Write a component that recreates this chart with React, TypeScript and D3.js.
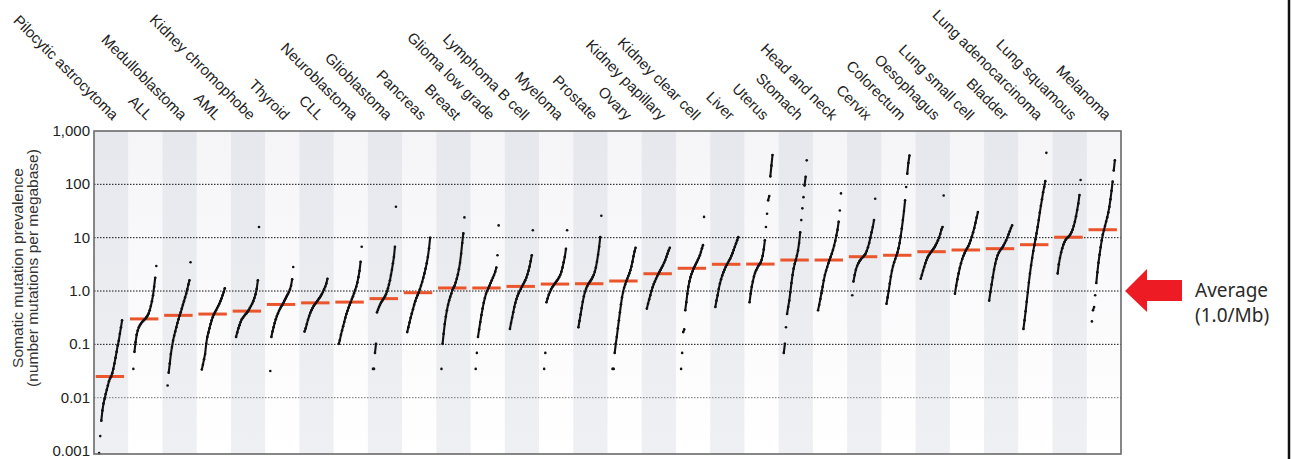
import React, { useEffect, useRef } from "react";
import * as d3 from "d3";

// cancer types, left to right
const cancerTypes = [
  "Pilocytic astrocytoma", "ALL", "Medulloblastoma", "AML", "Kidney chromophobe",
  "Thyroid", "CLL", "Neuroblastoma", "Glioblastoma", "Pancreas",
  "Breast", "Glioma low grade", "Lymphoma B cell", "Myeloma", "Prostate",
  "Ovary", "Kidney papillary", "Kidney clear cell", "Liver", "Uterus",
  "Stomach", "Head and neck", "Cervix", "Colorectum", "Oesophagus",
  "Lung small cell", "Bladder", "Lung adenocarcinoma", "Lung squamous", "Melanoma",
];

// median mutations per megabase (red bars)
const medianRates = [
  0.025, 0.3, 0.35, 0.37, 0.42, 0.56, 0.6, 0.62, 0.72, 0.93,
  1.14, 1.14, 1.22, 1.35, 1.37, 1.54, 2.11, 2.67, 3.17, 3.2,
  3.81, 3.81, 4.4, 4.68, 5.46, 5.88, 6.22, 7.39, 10.2, 14.1,
];

const tickValues = [0.001, 0.01, 0.1, 1, 10, 100, 1000];
const tickLabels = ["0.001", "0.01", "0.1", "1.0", "10", "100", "1,000"];
const gridValues = [0.01, 0.1, 1, 10, 100];

// samples of each type, sorted low to high, as log10(mutations per Mb)
const pilocyticAstrocytoma = [-3.04, -2.72, -2.43, -2.24, -2.11, -2.02, -1.93, -1.85, -1.77, -1.69, -1.64, -1.6, -1.54, -1.46, -1.36, -1.25, -1.14, -1.02, -0.93, -0.8, -0.68, -0.55];
const all = [-1.46, -1.14, -0.96, -0.82, -0.74, -0.68, -0.64, -0.61, -0.58, -0.56, -0.54, -0.52, -0.49, -0.46, -0.42, -0.36, -0.28, -0.19, -0.08, 0.08, 0.25, 0.47];
const medulloblastoma = [-1.77, -1.53, -1.36, -1.18, -1.05, -0.93, -0.84, -0.76, -0.68, -0.6, -0.53, -0.46, -0.4, -0.33, -0.26, -0.19, -0.12, -0.05, 0.03, 0.12, 0.2, 0.54];
const aml = [-1.47, -1.38, -1.28, -1.18, -0.99, -0.86, -0.78, -0.7, -0.62, -0.55, -0.49, -0.44, -0.4, -0.36, -0.32, -0.28, -0.24, -0.19, -0.14, -0.08, -0.02, 0.05];
const kidneyChromophobe = [-0.86, -0.78, -0.7, -0.64, -0.58, -0.53, -0.5, -0.47, -0.44, -0.42, -0.39, -0.36, -0.32, -0.28, -0.24, -0.19, -0.13, -0.06, 0.04, 0.2, 1.2];
const thyroid = [-1.5, -0.86, -0.76, -0.68, -0.6, -0.53, -0.47, -0.42, -0.37, -0.33, -0.29, -0.26, -0.22, -0.18, -0.14, -0.1, -0.06, -0.02, 0.03, 0.1, 0.22, 0.45];
const cll = [-0.76, -0.7, -0.62, -0.54, -0.47, -0.41, -0.36, -0.32, -0.28, -0.25, -0.22, -0.19, -0.16, -0.13, -0.1, -0.06, -0.02, 0.03, 0.08, 0.14, 0.23];
const neuroblastoma = [-0.99, -0.92, -0.82, -0.74, -0.66, -0.58, -0.5, -0.43, -0.37, -0.31, -0.26, -0.21, -0.15, -0.1, -0.04, 0.02, 0.08, 0.16, 0.26, 0.38, 0.55, 0.83];
const glioblastoma = [-1.46, -1.46, -1.16, -0.99, -0.4, -0.35, -0.3, -0.26, -0.22, -0.19, -0.16, -0.13, -0.1, -0.06, -0.01, 0.05, 0.12, 0.2, 0.3, 0.4, 0.52, 0.64, 0.83, 1.58];
const pancreas = [-0.77, -0.68, -0.59, -0.5, -0.42, -0.34, -0.26, -0.19, -0.13, -0.08, -0.03, 0.03, 0.1, 0.17, 0.25, 0.33, 0.42, 0.52, 0.64, 0.8, 1.0];
const breast = [-1.46, -0.99, -0.8, -0.62, -0.48, -0.36, -0.26, -0.18, -0.11, -0.05, 0.02, 0.06, 0.1, 0.16, 0.23, 0.31, 0.41, 0.53, 0.7, 0.9, 1.08, 1.38];
const gliomaLowGrade = [-1.46, -1.16, -0.86, -0.72, -0.58, -0.45, -0.33, -0.22, -0.13, -0.05, 0.0, 0.05, 0.1, 0.15, 0.2, 0.25, 0.3, 0.36, 0.44, 0.67, 1.23];
const lymphomaBCell = [-0.71, -0.6, -0.5, -0.4, -0.3, -0.22, -0.15, -0.09, -0.04, 0.0, 0.04, 0.08, 0.12, 0.16, 0.2, 0.25, 0.31, 0.38, 0.46, 0.56, 0.67, 1.14];
const myeloma = [-1.46, -1.16, -0.21, -0.14, -0.07, -0.02, 0.03, 0.07, 0.1, 0.13, 0.16, 0.19, 0.22, 0.26, 0.3, 0.36, 0.44, 0.54, 0.64, 0.79, 1.14];
const prostate = [-0.68, -0.56, -0.44, -0.32, -0.2, -0.1, -0.02, 0.04, 0.09, 0.13, 0.16, 0.19, 0.22, 0.26, 0.3, 0.36, 0.44, 0.55, 0.68, 0.83, 1.01, 1.41];
const ovary = [-1.46, -1.46, -1.16, -0.99, -0.86, -0.7, -0.55, -0.4, -0.25, -0.12, -0.02, 0.06, 0.12, 0.18, 0.23, 0.28, 0.33, 0.39, 0.46, 0.55, 0.65, 0.74, 0.81];
const kidneyPapillary = [-0.33, -0.24, -0.16, -0.08, 0.0, 0.07, 0.13, 0.18, 0.23, 0.28, 0.32, 0.36, 0.4, 0.44, 0.48, 0.53, 0.58, 0.64, 0.7, 0.76, 0.81];
const kidneyClearCell = [-1.46, -1.16, -0.77, -0.72, -0.36, -0.21, -0.05, 0.08, 0.18, 0.26, 0.32, 0.37, 0.42, 0.46, 0.5, 0.54, 0.58, 0.62, 0.67, 0.73, 0.8, 0.86, 1.39];
const liver = [-0.3, -0.18, -0.08, 0.04, 0.14, 0.22, 0.29, 0.35, 0.4, 0.45, 0.49, 0.53, 0.57, 0.61, 0.66, 0.71, 0.77, 0.83, 0.89, 0.95, 1.01];
const uterus = [-0.21, -0.05, 0.08, 0.18, 0.27, 0.34, 0.39, 0.43, 0.47, 0.5, 0.53, 0.58, 0.66, 0.78, 0.95, 1.2, 1.45, 1.7, 1.78, 2.15, 2.35, 2.55];
const stomach = [-1.16, -0.99, -0.68, -0.43, -0.3, -0.18, -0.02, 0.15, 0.3, 0.42, 0.51, 0.58, 0.66, 0.76, 0.9, 1.1, 1.33, 1.55, 1.76, 1.98, 2.14, 2.45];
const headAndNeck = [-0.36, -0.26, -0.15, -0.04, 0.08, 0.2, 0.3, 0.38, 0.45, 0.52, 0.58, 0.64, 0.7, 0.77, 0.85, 0.94, 1.04, 1.15, 1.3, 1.51, 1.83];
const cervix = [-0.08, 0.18, 0.3, 0.4, 0.47, 0.52, 0.56, 0.59, 0.62, 0.64, 0.67, 0.7, 0.75, 0.82, 0.9, 1.0, 1.1, 1.2, 1.33, 1.73];
const colorectum = [-0.24, -0.12, 0.0, 0.14, 0.27, 0.38, 0.47, 0.54, 0.6, 0.66, 0.72, 0.8, 0.9, 1.03, 1.17, 1.33, 1.5, 1.7, 1.95, 2.2, 2.4, 2.54];
const oesophagus = [0.23, 0.3, 0.38, 0.45, 0.52, 0.58, 0.63, 0.67, 0.7, 0.73, 0.76, 0.79, 0.82, 0.86, 0.9, 0.95, 1.0, 1.07, 1.15, 1.2, 1.79];
const lungSmallCell = [-0.05, 0.1, 0.22, 0.33, 0.43, 0.52, 0.6, 0.66, 0.71, 0.76, 0.8, 0.84, 0.89, 0.95, 1.02, 1.1, 1.18, 1.28, 1.38, 1.48];
const bladder = [-0.18, -0.02, 0.12, 0.26, 0.4, 0.51, 0.6, 0.67, 0.72, 0.76, 0.79, 0.82, 0.86, 0.9, 0.95, 1.0, 1.06, 1.12, 1.18, 1.23];
const lungAdenocarcinoma = [-0.71, -0.55, -0.38, -0.2, -0.02, 0.16, 0.33, 0.48, 0.62, 0.75, 0.86, 0.97, 1.08, 1.2, 1.33, 1.47, 1.6, 1.72, 1.85, 1.95, 2.06, 2.59];
const lungSquamous = [0.33, 0.5, 0.62, 0.72, 0.8, 0.87, 0.92, 0.96, 0.99, 1.01, 1.03, 1.06, 1.1, 1.15, 1.22, 1.3, 1.4, 1.52, 1.64, 1.8, 2.08];
const melanoma = [-0.57, -0.36, -0.3, -0.08, 0.15, 0.35, 0.53, 0.68, 0.82, 0.95, 1.06, 1.14, 1.22, 1.3, 1.38, 1.47, 1.58, 1.72, 1.88, 2.05, 2.26, 2.45];

const samplesByType = [
  pilocyticAstrocytoma, all, medulloblastoma, aml, kidneyChromophobe,
  thyroid, cll, neuroblastoma, glioblastoma, pancreas,
  breast, gliomaLowGrade, lymphomaBCell, myeloma, prostate,
  ovary, kidneyPapillary, kidneyClearCell, liver, uterus,
  stomach, headAndNeck, cervix, colorectum, oesophagus,
  lungSmallCell, bladder, lungAdenocarcinoma, lungSquamous, melanoma,
];

const W = 1293, H = 459;
const plot = { left: 94, right: 1121, top: 131, bottom: 454 };
const sans = "'Liberation Sans', Arial, Helvetica, sans-serif";

function App() {
  const ref = useRef<SVGSVGElement>(null);

  useEffect(() => {
    const svg = d3.select(ref.current);
    svg.selectAll("*").remove();

    const x = d3.scaleBand<string>().domain(cancerTypes).range([plot.left, plot.right]).padding(0);
    const y = d3.scaleLog().domain([0.00088, 1000]).range([plot.bottom, plot.top]);
    const bw = x.bandwidth();

    svg.append("rect").attr("width", W).attr("height", H).attr("fill", "#fff");

    const defs = svg.append("defs");
    const g1 = defs.append("linearGradient").attr("id", "bandDark").attr("x1", 0).attr("x2", 0).attr("y1", 0).attr("y2", 1);
    g1.append("stop").attr("offset", "0%").attr("stop-color", "#e7e8ed");
    g1.append("stop").attr("offset", "100%").attr("stop-color", "#eff0f3");
    const g2 = defs.append("linearGradient").attr("id", "bandLight").attr("x1", 0).attr("x2", 0).attr("y1", 0).attr("y2", 1);
    g2.append("stop").attr("offset", "0%").attr("stop-color", "#f5f5f8");
    g2.append("stop").attr("offset", "100%").attr("stop-color", "#ffffff");

    // column bands
    svg.append("g").selectAll("rect")
      .data(cancerTypes)
      .enter().append("rect")
      .attr("x", d => x(d)!)
      .attr("y", plot.top)
      .attr("width", bw + 0.5)
      .attr("height", plot.bottom - plot.top)
      .attr("fill", (d, i) => i % 2 === 0 ? "url(#bandDark)" : "url(#bandLight)");

    // dotted gridlines
    svg.append("g").selectAll("line")
      .data(gridValues)
      .enter().append("line")
      .attr("x1", plot.left).attr("x2", plot.right)
      .attr("y1", d => y(d)).attr("y2", d => y(d))
      .attr("stroke", d => d === 0.01 ? "#777" : "#111")
      .attr("stroke-width", 1)
      .attr("stroke-dasharray", "1.5,1.5");

    // medians
    svg.append("g").selectAll("line")
      .data(cancerTypes)
      .enter().append("line")
      .attr("x1", d => x(d)! + bw * 0.05)
      .attr("x2", d => x(d)! + bw * 0.88)
      .attr("y1", (d, i) => y(medianRates[i]))
      .attr("y2", (d, i) => y(medianRates[i]))
      .attr("stroke", "#ea552c")
      .attr("stroke-width", 3);

    // samples
    const dots = svg.append("g");
    samplesByType.forEach((vals, i) => {
      const x0 = x(cancerTypes[i])!;
      const pts = vals.map((v, k) => [
        x0 + bw * (0.15 + 0.67 * k / (vals.length - 1)),
        y(Math.pow(10, v)),
      ]);
      for (let k = 1; k < pts.length; k++) {
        if (Math.abs(pts[k][1] - pts[k - 1][1]) < 11) {
          dots.append("line")
            .attr("x1", pts[k - 1][0]).attr("y1", pts[k - 1][1])
            .attr("x2", pts[k][0]).attr("y2", pts[k][1])
            .attr("stroke", "#111").attr("stroke-width", 2.1)
            .attr("stroke-linecap", "round");
        }
      }
      dots.selectAll(null)
        .data(pts)
        .enter().append("circle")
        .attr("cx", d => d[0]).attr("cy", d => d[1])
        .attr("r", 1.3).attr("fill", "#111");
    });

    // frame
    svg.append("rect")
      .attr("x", plot.left).attr("y", plot.top)
      .attr("width", plot.right - plot.left).attr("height", plot.bottom - plot.top)
      .attr("fill", "none").attr("stroke", "#6a6a6a").attr("stroke-width", 1.6);

    // y tick labels
    svg.append("g").selectAll("text")
      .data(tickValues)
      .enter().append("text")
      .attr("x", 90).attr("y", d => y(d) + 5)
      .attr("text-anchor", "end")
      .attr("font-family", sans).attr("font-size", 15).attr("fill", "#222")
      .text((d, i) => tickLabels[i]);

    // y title
    const yt = svg.append("g").attr("font-family", sans).attr("font-size", 15.5).attr("fill", "#333").attr("text-anchor", "middle");
    yt.append("text").attr("transform", "translate(23,268) rotate(-90)").text("Somatic mutation prevalence");
    yt.append("text").attr("transform", "translate(38,268) rotate(-90)").text("(number mutations per megabase)");

    // column labels
    svg.append("g").selectAll("text")
      .data(cancerTypes)
      .enter().append("text")
      .attr("transform", d => `translate(${x(d)! + bw / 2 + 1},121) rotate(45)`)
      .attr("text-anchor", "end")
      .attr("font-family", sans).attr("font-size", 15).attr("fill", "#222")
      .text(d => d);

    // average arrow
    const ay = y(1);
    svg.append("polygon")
      .attr("points", [
        [1125, ay], [1147, ay - 22], [1147, ay - 11], [1182, ay - 11],
        [1182, ay + 10], [1147, ay + 10], [1147, ay + 21],
      ].map(p => p.join(",")).join(" "))
      .attr("fill", "#ed1c24");
    const at = svg.append("g").attr("font-family", "'Noto Sans', 'Open Sans', sans-serif").attr("font-size", 19).attr("fill", "#2a2a2a");
    at.append("text").attr("x", 1195).attr("y", 297).text("Average");
    at.append("text").attr("x", 1195).attr("y", 322).text("(1.0/Mb)");

    // right edge rule
    svg.append("line").attr("x1", 1289).attr("x2", 1289).attr("y1", 0).attr("y2", H)
      .attr("stroke", "#111").attr("stroke-width", 2.5);
  }, []);

  return (
    <svg ref={ref} width={W} height={H}
      style={{ position: "absolute", left: 0, top: 0, display: "block" }} />
  );
}

export default App;
